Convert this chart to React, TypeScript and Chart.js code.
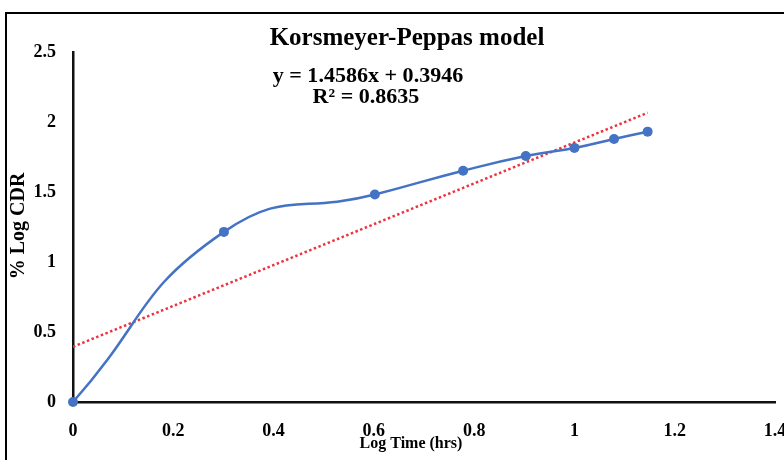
import React, { useEffect, useRef } from "react";
import { Chart, registerables } from "chart.js";

Chart.register(...registerables);

// Release data: log of time (hrs) vs % log cumulative drug release
const logTime = [0, 0.301, 0.602, 0.778, 0.903, 1, 1.079, 1.146];
const logCDR = [0, 1.215, 1.482, 1.652, 1.757, 1.815, 1.879, 1.931];

// Linear trendline fitted to the release data
const slope = 1.4586;
const intercept = 0.3946;
const rSquared = 0.8635;
const trendX = [0, 1.146];

const xTicks = [0, 0.2, 0.4, 0.6, 0.8, 1, 1.2, 1.4];
const yTicks = [0, 0.5, 1, 1.5, 2, 2.5];

const chartTitle = "Korsmeyer-Peppas model";
const xTitle = "Log Time (hrs)";
const yTitle = "% Log CDR";
const equation = `y = ${slope}x + ${intercept}`;
const r2Label = `R² = ${rSquared}`;

const FONT = '"Liberation Serif", "Times New Roman", serif';

// Frame line along the left and top edges of the figure
const framePlugin = {
  id: "kpFrame",
  beforeDraw(chart: any) {
    const { ctx, width, height } = chart;
    ctx.save();
    ctx.fillStyle = "#fff";
    ctx.fillRect(0, 0, width, height);
    ctx.strokeStyle = "#000";
    ctx.lineWidth = 2;
    ctx.beginPath();
    ctx.moveTo(6, height);
    ctx.lineTo(6, 13);
    ctx.lineTo(width, 13);
    ctx.stroke();
    ctx.restore();
  },
};

const labelsPlugin = {
  id: "kpLabels",
  afterDraw(chart: any) {
    const { ctx } = chart;
    ctx.save();
    ctx.fillStyle = "#000";
    ctx.textAlign = "center";
    ctx.textBaseline = "alphabetic";
    ctx.font = `bold 25px ${FONT}`;
    ctx.fillText(chartTitle, 407, 45);

    ctx.font = `bold 21px ${FONT}`;
    ctx.save();
    ctx.translate(368, 82);
    ctx.scale(1.05, 1);
    ctx.fillText(equation, 0, 0);
    ctx.restore();
    ctx.save();
    ctx.translate(366, 103);
    ctx.scale(1.05, 1);
    ctx.fillText(r2Label, 0, 0);
    ctx.restore();

    ctx.font = `bold 16px ${FONT}`;
    ctx.fillText(xTitle, 411, 448);

    ctx.translate(19, 226);
    ctx.rotate(-Math.PI / 2);
    ctx.textBaseline = "middle";
    ctx.font = `bold 20px ${FONT}`;
    ctx.fillText(yTitle, 0, 0);
    ctx.restore();
  },
};

export default function App() {
  const canvasRef = useRef<HTMLCanvasElement | null>(null);

  useEffect(() => {
    if (!canvasRef.current) return;
    const chart = new Chart(canvasRef.current, {
      type: "scatter",
      data: {
        datasets: [
          {
            label: "Trendline",
            data: trendX.map((x) => ({ x, y: slope * x + intercept })),
            showLine: true,
            borderColor: "rgb(236, 52, 64)",
            borderWidth: 2.5,
            borderDash: [2.5, 2.5],
            pointRadius: 0,
            order: 2,
          },
          {
            label: "% Log CDR",
            data: logTime.map((x, i) => ({ x, y: logCDR[i] })),
            showLine: true,
            borderColor: "#4472C4",
            backgroundColor: "#4472C4",
            borderWidth: 2.5,
            tension: 0.5,
            pointRadius: 5,
            pointBorderWidth: 0,
            clip: 10,
            order: 1,
          },
        ],
      },
      options: {
        responsive: false,
        animation: false,
        layout: { padding: { top: 52, left: 0, right: 9, bottom: 0 } },
        plugins: {
          legend: { display: false },
          tooltip: { enabled: false },
          title: { display: false },
        },
        scales: {
          x: {
            type: "linear",
            min: 0,
            max: 1.4,
            afterBuildTicks: (s: any) => {
              s.ticks = xTicks.map((v) => ({ value: v }));
            },
            afterFit: (s: any) => {
              s.height = 58;
              s.paddingRight = 0;
              s.paddingLeft = 0;
            },
            grid: { display: false, drawTicks: false },
            border: { display: true, color: "#111", width: 2.5 },
            ticks: {
              padding: 19,
              color: "#000",
              font: { family: FONT, size: 18, weight: "bold" },
              maxRotation: 0,
              callback: (v: any) => String(Number(v)),
            },
          },
          y: {
            type: "linear",
            min: 0,
            max: 2.5,
            afterBuildTicks: (s: any) => {
              s.ticks = yTicks.map((v) => ({ value: v }));
            },
            afterFit: (s: any) => {
              s.width = 73;
            },
            grid: { display: false, drawTicks: false },
            border: { display: true, color: "#111", width: 2.5 },
            ticks: {
              padding: 17,
              color: "#000",
              font: { family: FONT, size: 18, weight: "bold" },
              callback: (v: any) => String(Number(v)),
            },
          },
        },
      },
      plugins: [framePlugin, labelsPlugin],
    });
    return () => chart.destroy();
  }, []);

  return (
    <div
      style={{
        position: "fixed",
        left: 0,
        top: 0,
        width: 784,
        height: 460,
        overflow: "hidden",
        background: "#fff",
      }}
    >
      <canvas
        ref={canvasRef}
        width={784}
        height={460}
        style={{ display: "block", width: 784, height: 460 }}
      />
    </div>
  );
}
